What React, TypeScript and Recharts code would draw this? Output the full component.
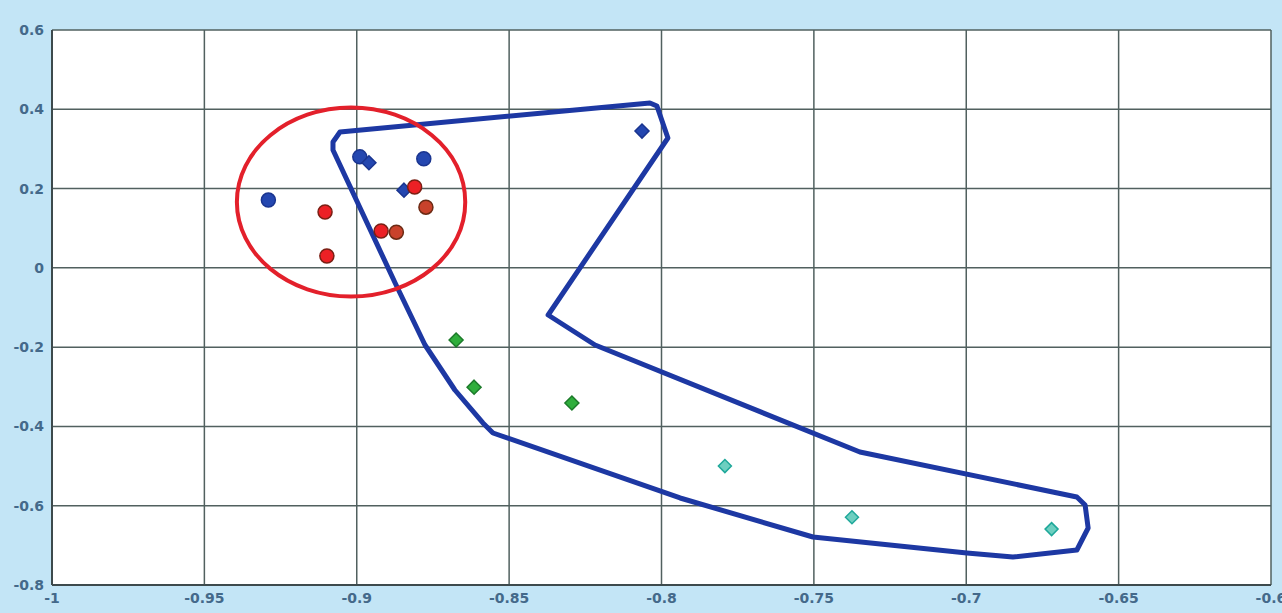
import {
  ComposedChart,
  Scatter,
  Line,
  XAxis,
  YAxis,
  CartesianGrid,
} from 'recharts';

const X_TICKS = [-1, -0.95, -0.9, -0.85, -0.8, -0.75, -0.7, -0.65, -0.6];
const Y_TICKS = [-0.8, -0.6, -0.4, -0.2, 0, 0.2, 0.4, 0.6];

// marker groups
const blueCircles = [
  { x: -0.929, y: 0.171 },
  { x: -0.899, y: 0.28 },
  { x: -0.878, y: 0.275 },
];
const blueDiamonds = [
  { x: -0.896, y: 0.265 },
  { x: -0.8845, y: 0.196 },
  { x: -0.8064, y: 0.345 },
];
const redCircles = [
  { x: -0.9104, y: 0.141 },
  { x: -0.9098, y: 0.03 },
  { x: -0.892, y: 0.093 },
  { x: -0.881, y: 0.204 },
];
const brownCircles = [
  { x: -0.887, y: 0.09 },
  { x: -0.8773, y: 0.153 },
];
const greenDiamonds = [
  { x: -0.8674, y: -0.182 },
  { x: -0.8615, y: -0.301 },
  { x: -0.8294, y: -0.341 },
];
const cyanDiamonds = [
  { x: -0.7792, y: -0.5 },
  { x: -0.7375, y: -0.629 },
  { x: -0.672, y: -0.659 },
];

// hand-drawn outlines (read point by point)
const blueOutline = [
  { x: -0.9078, y: 0.3175 },
  { x: -0.9055, y: 0.3427 },
  { x: -0.8038, y: 0.4159 },
  { x: -0.8015, y: 0.4083 },
  { x: -0.7979, y: 0.3276 },
  { x: -0.8372, y: -0.1189 },
  { x: -0.8218, y: -0.1946 },
  { x: -0.7349, y: -0.4645 },
  { x: -0.6637, y: -0.578 },
  { x: -0.661, y: -0.5982 },
  { x: -0.66, y: -0.6562 },
  { x: -0.6637, y: -0.7117 },
  { x: -0.6847, y: -0.7294 },
  { x: -0.6998, y: -0.7193 },
  { x: -0.7503, y: -0.6789 },
  { x: -0.7939, y: -0.5805 },
  { x: -0.8553, y: -0.4166 },
  { x: -0.8586, y: -0.3913 },
  { x: -0.8678, y: -0.3081 },
  { x: -0.8776, y: -0.1946 },
  { x: -0.8874, y: -0.0382 },
  { x: -0.9078, y: 0.2973 },
];
const redOutline = [
  { x: -0.8635, y: 0.166 },
  { x: -0.8662, y: 0.26 },
  { x: -0.8747, y: 0.339 },
  { x: -0.8871, y: 0.392 },
  { x: -0.9019, y: 0.411 },
  { x: -0.9166, y: 0.392 },
  { x: -0.929, y: 0.339 },
  { x: -0.9374, y: 0.26 },
  { x: -0.9403, y: 0.166 },
  { x: -0.9374, y: 0.0724 },
  { x: -0.929, y: -0.0071 },
  { x: -0.9166, y: -0.06 },
  { x: -0.9019, y: -0.0787 },
  { x: -0.8871, y: -0.06 },
  { x: -0.8747, y: -0.0071 },
  { x: -0.8662, y: 0.0724 },
];

const fmt = (v: number) => (v === 0 ? '0' : String(Number(v.toFixed(2))));

const circle = (fill: string, stroke: string) => (p: any) => (
  <circle cx={p.cx} cy={p.cy} r={7} fill={fill} stroke={stroke} strokeWidth={1.5} />
);
const diamond = (fill: string, stroke: string, s: number) => (p: any) => (
  <polygon
    points={`${p.cx},${p.cy - s} ${p.cx + s},${p.cy} ${p.cx},${p.cy + s} ${p.cx - s},${p.cy}`}
    fill={fill}
    stroke={stroke}
    strokeWidth={1.5}
  />
);

const tickStyle = { fontSize: 14, fill: '#44698a', fontWeight: 700, fontFamily: 'DejaVu Sans, sans-serif' };

export default function App() {
  return (
    <div style={{ position: 'absolute', left: 0, top: 0, width: 1282, height: 613, background: '#c3e5f6' }}>
      <ComposedChart width={1282} height={613} margin={{ top: 30, right: 11, left: 0, bottom: 0 }}>
        <CartesianGrid fill="#ffffff" stroke="#51605f" strokeWidth={1.5} horizontalValues={Y_TICKS} verticalValues={X_TICKS} />
        <XAxis
          type="number"
          dataKey="x"
          domain={[-1, -0.6]}
          ticks={X_TICKS}
          tickFormatter={fmt}
          height={28}
          tick={tickStyle}
          tickLine={false}
          axisLine={{ stroke: '#3d4a4d', strokeWidth: 2 }}
          allowDataOverflow
        />
        <YAxis
          type="number"
          dataKey="y"
          domain={[-0.8, 0.6]}
          ticks={Y_TICKS}
          tickFormatter={fmt}
          width={52}
          tick={tickStyle}
          tickLine={false}
          axisLine={{ stroke: '#3d4a4d', strokeWidth: 2 }}
          allowDataOverflow
        />
        <Line data={blueOutline} dataKey="y" type="linearClosed" stroke="#1d38a3" strokeWidth={5} strokeLinejoin="round" dot={false} isAnimationActive={false} />
        <Line data={redOutline} dataKey="y" type="basisClosed" stroke="#e3202b" strokeWidth={4} dot={false} isAnimationActive={false} />
        <Scatter data={blueCircles} shape={circle('#2447b0', '#1a3590')} isAnimationActive={false} />
        <Scatter data={blueDiamonds} shape={diamond('#2447b0', '#1a3590', 7)} isAnimationActive={false} />
        <Scatter data={redCircles} shape={circle('#ec2025', '#7a1f14')} isAnimationActive={false} />
        <Scatter data={brownCircles} shape={circle('#c9422b', '#6b2a14')} isAnimationActive={false} />
        <Scatter data={greenDiamonds} shape={diamond('#2fae3c', '#1c7a2a', 7)} isAnimationActive={false} />
        <Scatter data={cyanDiamonds} shape={diamond('#6dcfc0', '#1fa89a', 6.5)} isAnimationActive={false} />
      </ComposedChart>
    </div>
  );
}
